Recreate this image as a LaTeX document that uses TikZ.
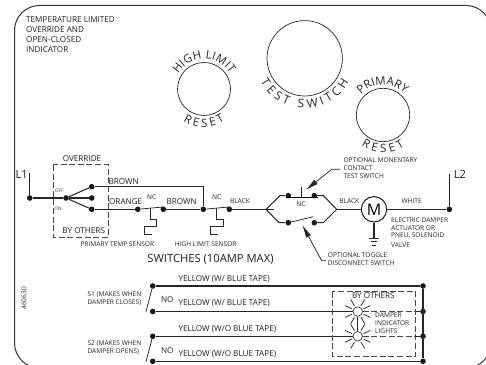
\documentclass[tikz,border=0pt]{standalone}
\usepackage{fontspec}
\setmainfont{Open Sans}
\usetikzlibrary{arrows.meta,decorations.text}

\begin{document}
\begin{tikzpicture}[
        x=1pt, y=1pt,
        wire/.style={draw=black!85, line width=1.05pt},
        thinwire/.style={draw=black!85, line width=0.75pt},
        boxline/.style={draw=black!72, line width=1pt, dash pattern=on 6pt off 2.6pt},
        dot/.style={circle, fill=black!90, inner sep=0pt, minimum size=5.6pt},
        knob/.style={circle, draw=black!85, line width=0.7pt, inner sep=0pt},
        lamp/.style={circle, draw=black!80, line width=0.7pt, inner sep=0pt, minimum size=9.5pt},
        pointer/.style={draw=black!85, line width=0.75pt, -{Latex[length=13pt,width=5.6pt]}},
        lab/.style={inner sep=0pt, text=black!88, font=\fontsize{8.15}{10}\selectfont},
        smalllab/.style={inner sep=0pt, text=black!85, font=\fontsize{6.6}{7.8}\selectfont},
        tinylab/.style={inner sep=0pt, text=black!80, font=\fontsize{4.8}{5}\selectfont},
        biglab/.style={inner sep=0pt, text=black!88, font=\fontsize{11.2}{13}\selectfont}
      ]
        \useasboundingbox (0,0) rectangle (486,364);
        \clip (0,0) rectangle (486,364);
        \draw[draw=black!80, line width=1pt, rounded corners=25pt] (14.5,358.5) rectangle (491,-4);

        \node[lab, anchor=north west, align=left] (title) at (26,347.5) {TEMPERATURE LIMITED\\OVERRIDE AND\\OPEN-CLOSED\\INDICATOR};
        \node[smalllab, rotate=90] (partno) at (24,65.7) {460630};

        \node[knob, minimum size=53pt] (highknob) at (204,275) {};
        \node[knob, minimum size=75.4pt] (testknob) at (304.7,305.7) {};
        \node[knob, minimum size=53.4pt] (primknob) at (383,249) {};

        \path[decorate, decoration={text along path, text align=fit to path, text={|\fontsize{11.5}{11.5}\selectfont\color{black!85}|HIGH LIMIT}}]
          (highknob.center) ++(150:30) arc[start angle=150, end angle=30, radius=30];
        \path[decorate, decoration={text along path, text align=fit to path, text={|\fontsize{11.5}{11.5}\selectfont\color{black!85}|RESET}}]
          (highknob.center) ++(237:38) arc[start angle=237, end angle=303, radius=38];
        \path[decorate, decoration={text along path, text align=fit to path, text={|\fontsize{12}{12}\selectfont\color{black!85}|TEST SWITCH}}]
          (testknob.center) ++(208:50) arc[start angle=208, end angle=332, radius=50];
        \path[decorate, decoration={text along path, text align=fit to path, text={|\fontsize{11.5}{11.5}\selectfont\color{black!85}|PRIMARY}}]
          (primknob.center) ++(137:30) arc[start angle=137, end angle=46, radius=30];
        \path[decorate, decoration={text along path, text align=fit to path, text={|\fontsize{11.5}{11.5}\selectfont\color{black!85}|RESET}}]
          (primknob.center) ++(235:37.5) arc[start angle=235, end angle=305, radius=37.5];

        \coordinate (lonetop) at (29.7,191);
        \node[dot] (lonedot) at (29.7,166) {};
        \node[dot] (swcom) at (66,166) {};
        \node[dot] (swoff) at (91.7,177.3) {};
        \node[dot] (swmid) at (91.7,166) {};
        \node[dot] (swon) at (91.7,154.7) {};
        \node[dot] (ptempa) at (137.7,154.7) {};
        \node[dot] (ptempb) at (163.3,154.7) {};
        \node[dot] (hlima) at (203.3,154.7) {};
        \node[dot] (hlimb) at (229.3,154.7) {};
        \coordinate (browncorner) at (203.3,177.3);
        \coordinate (forkl) at (266,154.7);
        \coordinate (forkstub) at (274,154.7);
        \coordinate (forkr) at (336.7,154.7);
        \coordinate (upl) at (280,168.3);
        \coordinate (upr) at (323.3,168.3);
        \coordinate (lowl) at (279,141.3);
        \coordinate (lowr) at (323.3,141.3);
        \node[dot] (testa) at (288.3,168.3) {};
        \node[dot] (testb) at (314.3,168.3) {};
        \node[dot] (toga) at (288.3,141.3) {};
        \node[dot] (togb) at (314.3,141.3) {};
        \coordinate (togend) at (313.3,147.3);
        \coordinate (barl) at (285.7,166.7);
        \coordinate (barr) at (317.7,166.7);
        \coordinate (barmid) at (301,166.7);
        \coordinate (stemtop) at (301,176.7);
        \node[circle, draw=black!90, line width=1pt, minimum size=25.4pt, inner sep=0pt, font=\fontsize{16}{16}\selectfont] (motor) at (374,154.7) {M};
        \node[dot] (ltwodot) at (449.3,154.7) {};
        \coordinate (ltwotop) at (449.3,190);
        \coordinate (gnd) at (374,125.7);

        \draw[wire] (lonetop) -- (lonedot) -- (swcom);
        \draw[wire] (swcom) -- (swoff);
        \draw[wire] (swcom) -- (swmid);
        \draw[wire] (swcom) -- (swon);
        \draw[wire] (swoff) -- (browncorner) -- (hlima);
        \draw[wire] (swon) -- (ptempa);
        \draw[wire] (ptempb) -- (hlima);
        \draw[wire] (hlimb) -- (forkstub);
        \draw[wire] (forkl) -- (upl) -- (testa);
        \draw[wire] (forkl) -- (lowl) -- (toga);
        \draw[wire] (testb) -- (upr) -- (forkr);
        \draw[wire] (togb) -- (lowr) -- (forkr);
        \draw[wire] (forkr) -- (motor);
        \draw[wire] (motor) -- (ltwodot) -- (ltwotop);
        \draw[wire] (motor) -- (gnd);
        \draw[draw=black, line width=1.5pt] (barl) -- (barr);
        \draw[thinwire] (barmid) -- (stemtop);
        \draw[thinwire] (toga) -- (togend);
        \draw[thinwire] (ptempa) -- (163,157);
        \draw[thinwire] (hlima) -- (229,157);

        \draw[thinwire] (150,156.2) -- (150,144.7) -- (156.7,144.7) -- (156.7,138) -- (144,138) -- (144,130) -- (151.7,130);
        \draw[thinwire] (216.7,156.2) -- (216.7,144.7) -- (223.3,144.7) -- (223.3,138) -- (210.7,138) -- (210.7,130) -- (218.4,130);

        \draw[thinwire] (369.3,125.7) -- (379,125.7);
        \draw[thinwire] (370.8,122.3) -- (377.4,122.3);
        \draw[thinwire] (372,118.3) -- (376,118.3);

        \draw[boxline] (53.3,199) rectangle (108.3,127);

        \node[lab] (overridelab) at (82,205) {OVERRIDE};
        \node[lab] (byothersa) at (83.7,133.3) {BY OTHERS};
        \node[biglab] (lonelab) at (21.7,189.7) {L1};
        \node[biglab] (ltwolab) at (460,190) {L2};
        \node[tinylab] (offlab) at (59.3,173) {OFF};
        \node[tinylab] (onlab) at (58,155) {ON};
        \node[lab] (browna) at (123.7,182.3) {BROWN};
        \node[lab] (orangelab) at (125.7,162) {ORANGE};
        \node[smalllab] (nca) at (151.7,166.7) {NC};
        \node[lab] (brownb) at (181.7,162) {BROWN};
        \node[smalllab] (ncb) at (216.7,166.7) {NC};
        \node[smalllab] (blacka) at (240,162.7) {BLACK};
        \node[smalllab] (ncc) at (301,159.5) {NC};
        \node[smalllab] (blackb) at (349.3,162.7) {BLACK};
        \node[smalllab] (whitelab) at (411.7,162.7) {WHITE};
        \node[smalllab] (ptemplab) at (117.3,120.3) {PRIMARY TEMP SENSOR};
        \node[smalllab] (hlimlab) at (205.7,120.3) {HIGH LIMIT SENSOR};
        \node[biglab] (switcheslab) at (210.5,104.7) {SWITCHES (10AMP MAX)};

        \node[smalllab, anchor=north west, align=left] (damperlab) at (391,146.7) {ELECTRIC DAMPER\\ACTUATOR OR\\PNEU, SOLENOID\\[1.5pt]VALVE};
        \node[smalllab, anchor=north west, align=left] (momentlab) at (343.3,206.5) {OPTIONAL MONENTARY\\CONTACT\\TEST SWITCH};
        \node[smalllab, anchor=north west, align=left] (togglelab) at (327.7,111.2) {OPTIONAL TOGGLE\\DISCONNECT SWITCH};

        \coordinate (momentend) at (340,194.7);
        \coordinate (momentbend) at (331.7,194.7);
        \coordinate (momenttip) at (305.7,174);
        \coordinate (toggleend) at (326,103.3);
        \coordinate (togglebend) at (321.7,103.3);
        \coordinate (toggletip) at (302.3,139);
        \draw[pointer] (momentend) -- (momentbend) -- (momenttip);
        \draw[pointer] (toggleend) -- (togglebend) -- (toggletip);

        \node[dot] (yla) at (152.7,78) {};
        \node[dot] (ylb) at (152.7,52.5) {};
        \node[dot] (ylc) at (152.7,27.7) {};
        \node[dot] (yld) at (152.7,2.7) {};
        \node[dot] (yra) at (423,78) {};
        \node[dot] (yrb) at (423,52.5) {};
        \node[dot] (yrc) at (423,27.7) {};
        \node[dot] (yrd) at (423,2.7) {};
        \node[lamp] (lampa) at (357.7,52.5) {};
        \node[lamp] (lampb) at (357.7,27.7) {};
        \coordinate (boxa) at (415.7,52.5);
        \coordinate (boxb) at (415.7,27.7);
        \coordinate (slanta) at (146,52.3);
        \coordinate (slantb) at (146,2.3);

        \draw[wire] (yla) -- (yra);
        \draw[wire] (ylb) -- (lampa);
        \draw[wire] (ylc) -- (lampb);
        \draw[wire] (yld) -- (yrd);
        \draw[wire] (yra) -- (yrd);
        \draw[wire] (boxa) -- (yrb);
        \draw[wire] (boxb) -- (yrc);
        \draw[boxline] (lampa) -- (boxa);
        \draw[boxline] (lampb) -- (boxb);
        \draw[thinwire] (lampa) -- (lampb);
        \draw[thinwire] (yla) -- (slanta);
        \draw[thinwire] (ylc) -- (slantb);
        \draw[boxline] (332.3,72.3) rectangle (415.7,8);

        \foreach \ang in {25,60,120,155,205,240,300,335} {
          \draw[thinwire] (lampa) ++(\ang:6.5) -- ++(\ang:7.5);
          \draw[thinwire] (lampb) ++(\ang:6.5) -- ++(\ang:7.5);
        }

        \node[smalllab, anchor=north west, align=left] (sonelab) at (87.3,72.5) {S1 (MAKES WHEN\\DAMPER CLOSES)};
        \node[smalllab, anchor=north west, align=left] (stwolab) at (87.3,23) {S2 (MAKES WHEN\\DAMPER OPENS)};
        \node[lab] (noa) at (167.3,64) {NO};
        \node[lab] (nob) at (167.3,13) {NO};
        \node[lab, anchor=west] (yellowa) at (178.3,85) {YELLOW (W/ BLUE TAPE)};
        \node[lab, anchor=west] (yellowb) at (178.3,60.7) {YELLOW (W/ BLUE TAPE)};
        \node[lab, anchor=west] (yellowc) at (178.3,35) {YELLOW (W/O BLUE TAPE)};
        \node[lab, anchor=west] (yellowd) at (178.3,9.7) {YELLOW (W/O BLUE TAPE)};
        \node[lab] (byothersb) at (373.3,68) {BY OTHERS};
        \node[smalllab, anchor=north west, align=left] (lightlab) at (375,51.5) {DAMPER\\INDICATOR\\LIGHTS};
      \end{tikzpicture}
\end{document}
